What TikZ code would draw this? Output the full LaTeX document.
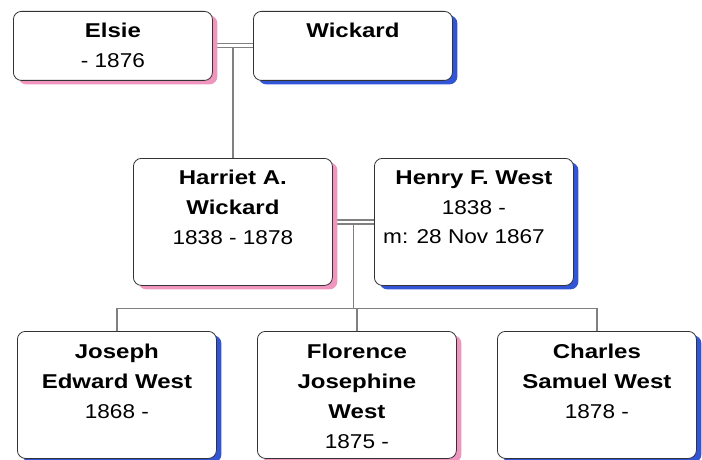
\documentclass[tikz,border=0pt]{standalone}
\usepackage{fontspec}
\setmainfont{Liberation Sans}[FakeStretch=1.13, BoldFeatures={FakeStretch=1.2}]
\usetikzlibrary{shadows,calc}
\definecolor{femshade}{RGB}{240,150,190}
\definecolor{maleshade}{RGB}{50,85,215}
\definecolor{linkgray}{RGB}{128,128,128}
\pgfdeclarelayer{background}
\pgfsetlayers{background,main}
\tikzset{
  person/.style={draw=black!80, fill=white, rounded corners=8pt, line width=0.8pt,
    minimum width=199pt, anchor=north west, inner sep=0pt},
  female/.style={person, drop shadow={shadow xshift=5pt, shadow yshift=-4pt,
    fill=femshade, opacity=1}},
  male/.style={person, drop shadow={shadow xshift=5pt, shadow yshift=-4pt,
    fill=maleshade, opacity=1}},
  short/.style={minimum height=69pt},
  tall/.style={minimum height=127pt},
  % anchored on the baseline of the last line
  info/.style={align=center, anchor=base, inner sep=0pt,
    font=\fontsize{20pt}{30pt}\selectfont},
  link/.style={draw=linkgray, line width=1.2pt},
}
\begin{document}
\begin{tikzpicture}[x=1pt, y=-1pt]
\useasboundingbox (0,0) rectangle (702,460);

% grandparents
\node[female, short] (elsie) at (13,11) {};
\node[male, short] (wick) at (253,11) {};
% parents
\node[female, tall] (harriet) at (133,158) {};
\node[male, tall] (henry) at (374,158) {};
% children
\node[male, tall] (joseph) at (17,331) {};
\node[female, tall] (florence) at (257,331) {};
\node[male, tall] (charles) at (497,331) {};

% texts
\node[info] (elsieT) at ($(elsie.north)+(0,57)$) {\textbf{Elsie}\\- 1876};
\node[info] (wickT) at ($(wick.north)+(0,27)$) {\textbf{Wickard}};
\node[info] (harrietT) at ($(harriet.north)+(0,86)$) {\textbf{Harriet A.}\\\textbf{Wickard}\\1838 - 1878};
\node[info] (henryT) at ($(henry.north)+(0,56)$) {\textbf{Henry F. West}\\1838 -};
\node[info, anchor=base west] (henryM) at ($(henry.north west)+(9,85)$) {m: 28 Nov 1867};
\node[info] (josephT) at ($(joseph.north)+(0,87)$) {\textbf{Joseph}\\\textbf{Edward West}\\1868 -};
\node[info] (florenceT) at ($(florence.north)+(0,117)$) {\textbf{Florence}\\\textbf{Josephine}\\\textbf{West}\\1875 -};
\node[info] (charlesT) at ($(charles.north)+(0,87)$) {\textbf{Charles}\\\textbf{Samuel West}\\1878 -};

% family links
\begin{pgfonlayer}{background}
  \draw[link] ([yshift=2pt]elsie.east) -- ([yshift=2pt]wick.west);
  \draw[link] ([yshift=-2pt]elsie.east) -- ([yshift=-2pt]wick.west);
  \coordinate (m1) at ($([yshift=-2pt]elsie.east)!0.5!([yshift=-2pt]wick.west)$);
  \draw[link] (m1) -- (m1 |- harriet.north);

  \draw[link] ([yshift=2pt]harriet.east) -- ([yshift=2pt]henry.west);
  \draw[link] ([yshift=-2pt]harriet.east) -- ([yshift=-2pt]henry.west);
  \coordinate (m2) at ($([yshift=-2pt]harriet.east)!0.5!([yshift=-2pt]henry.west)$);
  \coordinate (bus) at ($(m2 |- harriet.south)!0.5!(m2 |- joseph.north)$);
  \draw[link] (m2) -- (bus);
  \draw[link] (joseph.north) -- (joseph.north |- bus) -- (charles.north |- bus) -- (charles.north);
  \draw[link] (florence.north |- bus) -- (florence.north);
\end{pgfonlayer}
\end{tikzpicture}
\end{document}
